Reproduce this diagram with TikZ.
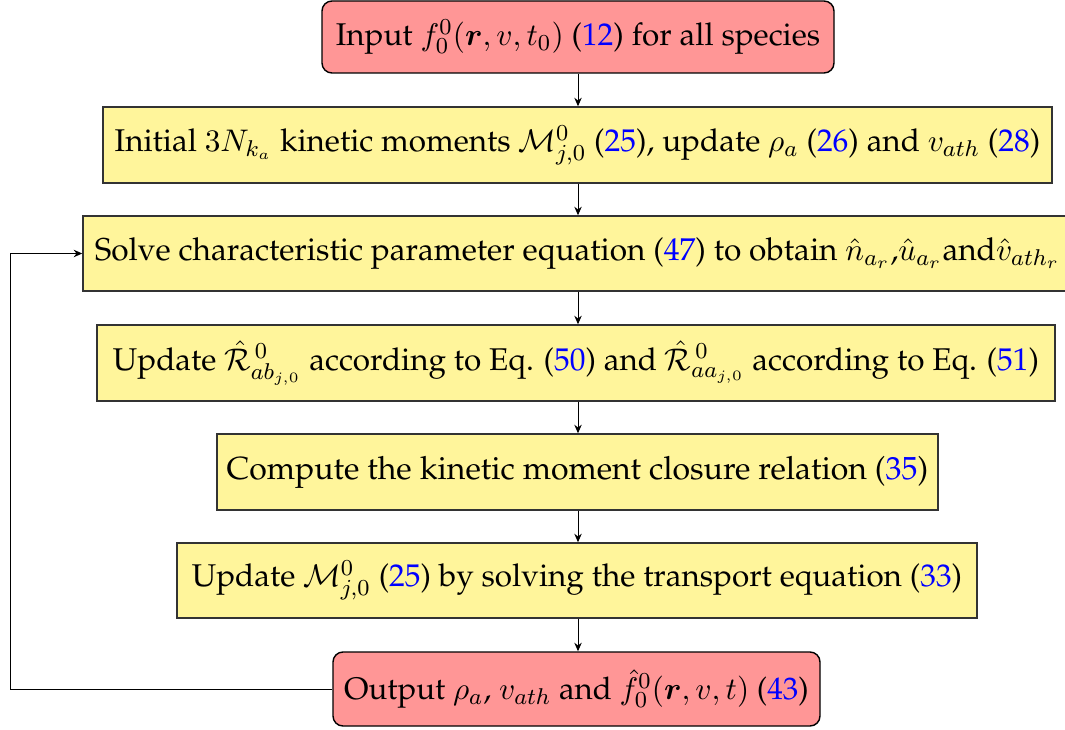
\documentclass[tikz,border=0pt]{standalone}
\usepackage[T1]{fontenc}
\usepackage{palatino}
\usepackage{amsmath,bm}
\usetikzlibrary{arrows.meta}
\definecolor{boxred}{RGB}{255,150,150}
\definecolor{boxyellow}{RGB}{255,245,155}
\newcommand{\eqn}[1]{(\textcolor{blue}{#1})}
\newcommand{\fs}[1]{\fontsize{#1}{1.2\dimexpr#1pt\relax}\selectfont}
\tikzset{
  px/.style={x=0.35pt,y=-0.35pt},
  redbox/.style={draw=black,fill=boxred,rounded corners=3.5pt,inner sep=0pt,line width=0.5pt},
  yelbox/.style={draw=black!80,fill=boxyellow,inner sep=0pt,line width=0.5pt},
  flow/.style={-{Stealth[length=3pt,width=2.6pt]},line width=0.35pt}
}
\begin{document}
\begin{tikzpicture}[px]
\useasboundingbox (0,0) rectangle (1065,729);
\clip (0,0) rectangle (1065,729);
\node[redbox,minimum width=512*0.35pt,minimum height=72*0.35pt,font=\fs{11}] (n1) at (578,37)
  {Input $f_0^0(\bm{r},v,t_0)$ \eqn{12} for all species};
\node[yelbox,minimum width=949*0.35pt,minimum height=76*0.35pt,font=\fs{11}] (n2) at (577.5,145)
  {Initial $3N_{k_a}$ kinetic moments $\mathcal{M}_{j,0}^0$ \eqn{25}, update $\rho_a$ \eqn{26} and $v_{ath}$ \eqn{28}};
\node[yelbox,minimum width=989*0.35pt,minimum height=75*0.35pt,font=\fs{11.05}] (n3) at (577.5,253.5)
  {Solve characteristic parameter equation \eqn{47} to obtain $\hat{n}_{a_r}$,$\hat{u}_{a_r}$and$\hat{v}_{ath_r}$};
\node[yelbox,minimum width=958*0.35pt,minimum height=76*0.35pt,font=\fs{11}] (n4) at (576,363)
  {Update $\hat{\mathcal{R}}_{ab_{j,0}}^{\,0}$ according to Eq. \eqn{50} and $\hat{\mathcal{R}}_{aa_{j,0}}^{\,0}$ according to Eq. \eqn{51}};
\node[yelbox,minimum width=721*0.35pt,minimum height=76*0.35pt,font=\fs{11.2}] (n5) at (577.5,472)
  {Compute the kinetic moment closure relation \eqn{35}};
\node[yelbox,minimum width=800*0.35pt,minimum height=75*0.35pt,font=\fs{11}] (n6) at (577,580.5)
  {Update $\mathcal{M}_{j,0}^0$ \eqn{25} by solving the transport equation \eqn{33}};
\node[redbox,minimum width=487*0.35pt,minimum height=74*0.35pt,font=\fs{10.9}] (n7) at (576.5,689)
  {Output $\rho_a$, $v_{ath}$ and $\hat{f}_0^0(\bm{r},v,t)$ \eqn{43}};
\coordinate (c) at (10,689);
\draw[flow] (n1.south -| 578,0) -- (n2.north -| 578,0);
\draw[flow] (n2.south -| 578,0) -- (n3.north -| 578,0);
\draw[flow] (n3.south -| 578,0) -- (n4.north -| 578,0);
\draw[flow] (n4.south -| 578,0) -- (n5.north -| 578,0);
\draw[flow] (n5.south -| 578,0) -- (n6.north -| 578,0);
\draw[flow] (n6.south -| 578,0) -- (n7.north -| 578,0);
\draw[flow] (n7.west) -- (c) |- (n3.west);
\end{tikzpicture}
\end{document}
